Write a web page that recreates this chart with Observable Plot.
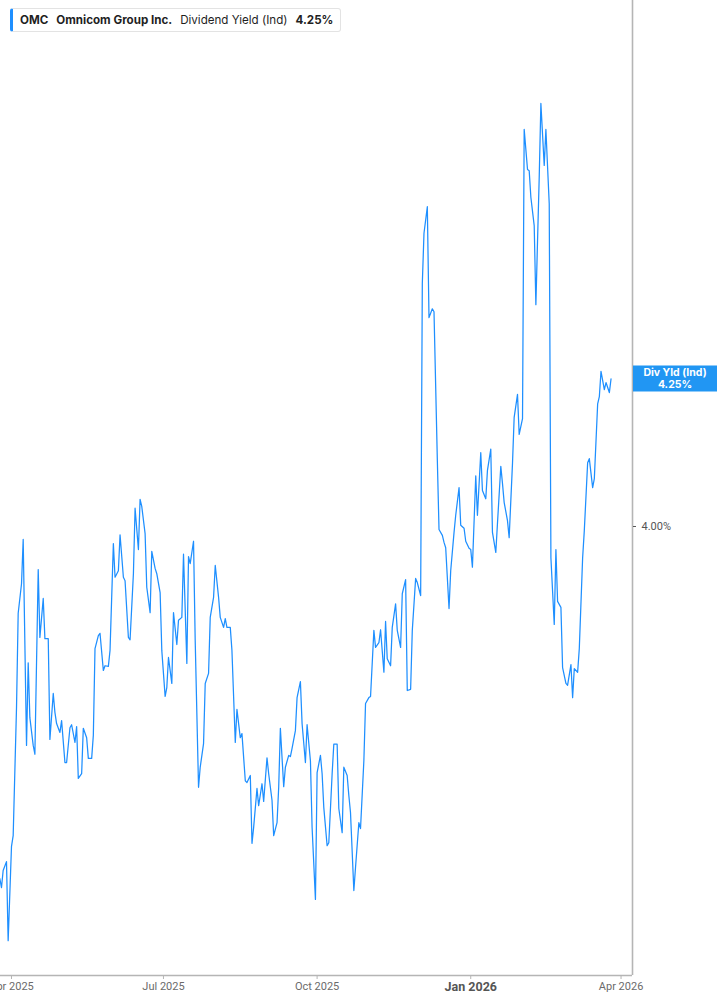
<!DOCTYPE html>
<html>
<head>
<meta charset="utf-8">
<script src="https://cdn.jsdelivr.net/npm/d3@7"></script>
<script src="https://cdn.jsdelivr.net/npm/@observablehq/plot@0.6"></script>
<style>
  html, body { margin: 0; padding: 0; background: #fff; }
  #wrap { position: relative; width: 717px; height: 1005px; overflow: hidden; }
  #legend {
    position: absolute; top: 8px; left: 10px; height: 24px;
    display: flex; align-items: center; gap: 0;
    background: #fff; border: 1px solid #e3e3e3; border-left: 3px solid #1e8fff;
    border-radius: 3px; padding: 0 7px 0 7px;
    font-family: Inter, "Open Sans", sans-serif; font-size: 11.6px; color: #1f1f1f;
    white-space: nowrap; box-sizing: border-box;
  }
  #legend span { margin-right: 8px; }
  #legend span:last-child { margin-right: 0; }
  #legend .b { font-weight: 700; }
</style>
</head>
<body>
<div id="wrap"></div>
<script>
// ---- data ----
const ticker = "OMC";
const company = "Omnicom Group Inc.";
const seriesName = "Dividend Yield (Ind)";
const shortName = "Div Yld (Ind)";

const dates = [
"2025-03-25","2025-03-26","2025-03-27","2025-03-29","2025-03-30","2025-04-01","2025-04-02","2025-04-04","2025-04-05","2025-04-07",
"2025-04-08","2025-04-10","2025-04-11","2025-04-12","2025-04-14","2025-04-15","2025-04-17","2025-04-18","2025-04-20","2025-04-21",
"2025-04-23","2025-04-24","2025-04-26","2025-04-27","2025-04-28","2025-04-30","2025-05-01","2025-05-03","2025-05-04","2025-05-06",
"2025-05-07","2025-05-09","2025-05-10","2025-05-11","2025-05-13","2025-05-14","2025-05-16","2025-05-17","2025-05-19","2025-05-20",
"2025-05-21","2025-05-23","2025-05-24","2025-05-26","2025-05-27","2025-05-29","2025-05-30","2025-06-01","2025-06-02","2025-06-04",
"2025-06-05","2025-06-07","2025-06-08","2025-06-10","2025-06-11","2025-06-13","2025-06-14","2025-06-16","2025-06-17","2025-06-18",
"2025-06-20","2025-06-21","2025-06-23","2025-06-24","2025-06-26","2025-06-27","2025-06-29","2025-06-30","2025-07-02","2025-07-03",
"2025-07-04","2025-07-06","2025-07-07","2025-07-09","2025-07-10","2025-07-12","2025-07-13","2025-07-15","2025-07-16","2025-07-17",
"2025-07-19","2025-07-20","2025-07-22","2025-07-23","2025-07-25","2025-07-26","2025-07-28","2025-07-29","2025-07-31","2025-08-01",
"2025-08-03","2025-08-04","2025-08-06","2025-08-07","2025-08-08","2025-08-10","2025-08-11","2025-08-13","2025-08-14","2025-08-16",
"2025-08-17","2025-08-19","2025-08-20","2025-08-22","2025-08-23","2025-08-24","2025-08-26","2025-08-27","2025-08-29","2025-08-30",
"2025-09-01","2025-09-02","2025-09-04","2025-09-05","2025-09-07","2025-09-08","2025-09-09","2025-09-11","2025-09-12","2025-09-14",
"2025-09-15","2025-09-16","2025-09-18","2025-09-19","2025-09-21","2025-09-22","2025-09-24","2025-09-25","2025-09-27","2025-09-28",
"2025-09-30","2025-10-01","2025-10-03","2025-10-04","2025-10-05","2025-10-07","2025-10-08","2025-10-10","2025-10-11","2025-10-13",
"2025-10-14","2025-10-16","2025-10-17","2025-10-19","2025-10-20","2025-10-21","2025-10-23","2025-10-24","2025-10-26","2025-10-27",
"2025-10-29","2025-10-30","2025-11-01","2025-11-02","2025-11-04","2025-11-05","2025-11-07","2025-11-08","2025-11-10","2025-11-11",
"2025-11-12","2025-11-14","2025-11-15","2025-11-17","2025-11-18","2025-11-20","2025-11-21","2025-11-23","2025-11-24","2025-11-26",
"2025-11-27","2025-11-29","2025-11-30","2025-12-02","2025-12-03","2025-12-04","2025-12-06","2025-12-07","2025-12-09","2025-12-10",
"2025-12-12","2025-12-13","2025-12-15","2025-12-16","2025-12-17","2025-12-19","2025-12-20","2025-12-22","2025-12-23","2025-12-25",
"2025-12-26","2025-12-28","2025-12-29","2025-12-31","2026-01-01","2026-01-02","2026-01-04","2026-01-05","2026-01-07","2026-01-08",
"2026-01-10","2026-01-11","2026-01-13","2026-01-14","2026-01-16","2026-01-17","2026-01-19","2026-01-20","2026-01-21","2026-01-23",
"2026-01-24","2026-01-26","2026-01-27","2026-01-29","2026-01-30","2026-02-01","2026-02-02","2026-02-04","2026-02-05","2026-02-06",
"2026-02-08","2026-02-09","2026-02-11","2026-02-12","2026-02-14","2026-02-15","2026-02-17","2026-02-18","2026-02-20","2026-02-21",
"2026-02-22","2026-02-24","2026-02-25","2026-02-27","2026-02-28","2026-03-02","2026-03-03","2026-03-04","2026-03-06","2026-03-07",
"2026-03-09","2026-03-10","2026-03-12","2026-03-13","2026-03-15","2026-03-16","2026-03-18","2026-03-19","2026-03-20","2026-03-22",
"2026-03-23","2026-03-25","2026-03-26"
];

const yields = [
3.403,3.388,3.417,3.432,3.298,3.458,3.476,3.693,3.853,3.903,
3.978,3.629,3.769,3.676,3.629,3.614,3.927,3.812,3.878,3.810,
3.810,3.639,3.717,3.685,3.666,3.651,3.671,3.600,3.600,3.659,
3.664,3.634,3.661,3.573,3.581,3.658,3.642,3.607,3.607,3.646,
3.793,3.815,3.819,3.756,3.764,3.763,3.790,3.971,3.914,3.925,
3.986,3.914,3.908,3.812,3.808,3.920,4.031,3.961,4.046,4.034,
3.988,3.897,3.854,3.958,3.929,3.920,3.888,3.790,3.712,3.727,
3.778,3.734,3.854,3.800,3.841,3.846,3.953,3.768,3.949,3.937,
3.975,3.807,3.558,3.592,3.632,3.734,3.751,3.846,3.880,3.934,
3.880,3.846,3.829,3.844,3.829,3.829,3.790,3.634,3.690,3.642,
3.649,3.569,3.566,3.578,3.463,3.490,3.556,3.527,3.564,3.534,
3.608,3.581,3.536,3.476,3.498,3.558,3.658,3.559,3.592,3.612,
3.610,3.624,3.654,3.710,3.737,3.666,3.600,3.664,3.603,3.490,
3.368,3.583,3.612,3.581,3.524,3.459,3.464,3.581,3.631,3.631,
3.522,3.481,3.592,3.578,3.544,3.515,3.383,3.422,3.498,3.488,
3.603,3.700,3.710,3.712,3.824,3.795,3.803,3.825,3.753,3.839,
3.776,3.764,3.829,3.869,3.824,3.795,3.886,3.910,3.722,3.724,
3.824,3.912,3.905,3.883,4.412,4.497,4.542,4.354,4.369,4.364,
4.112,3.995,3.985,3.973,3.964,3.861,3.925,3.990,4.019,4.066,
4.002,3.997,3.975,3.963,3.961,3.931,4.086,4.019,4.125,4.061,
4.047,4.095,4.131,3.990,3.956,4.005,4.102,4.073,4.041,4.010,
3.981,4.107,4.185,4.224,4.156,4.183,4.673,4.605,4.603,4.558,
4.510,4.376,4.592,4.717,4.612,4.673,4.547,3.947,3.834,3.961,
3.873,3.863,3.761,3.734,3.731,3.766,3.710,3.759,3.753,3.793,
3.947,3.993,4.108,4.115,4.066,4.081,4.208,4.220,4.263,4.232,
4.244,4.227,4.250
];

const xTicks = ["2025-04-01","2025-07-01","2025-10-01","2026-01-01","2026-04-01"];
const boldTick = "2026-01-01";
const yTicks = [4.00];
const xDomain = ["2025-03-25T09:55:00Z","2026-04-07T20:40:00Z"];
const yDomain = [3.239, 4.8915];

// ---- build ----
const data = dates.map((d, i) => ({date: new Date(d), value: yields[i]}));
const last = data[data.length - 1];
const fmtPct = v => v.toFixed(2) + "%";
const xt = xTicks.map(d => new Date(d));
const xtNormal = xt.filter(d => +d !== +new Date(boldTick));
const xtBold = xt.filter(d => +d === +new Date(boldTick));

const blue = "#1e8fff";
const axisGrey = "#b5b5b5";

// custom mark: current value badge in the right margin
function badge(index, scales, values, dims) {
  const y = scales.y(last.value);
  const x0 = dims.width - dims.marginRight;
  const g = d3.create("svg:g");
  g.append("rect").attr("x", x0 + 1).attr("y", y - 13).attr("width", dims.marginRight - 1).attr("height", 26)
    .attr("fill", "#2196f3");
  const t = g.append("text").attr("fill", "#fff").attr("font-weight", 700).attr("font-size", 10.5)
    .attr("font-family", "Inter, sans-serif").attr("text-anchor", "middle");
  t.append("tspan").attr("x", x0 + 1 + (dims.marginRight - 1) / 2).attr("y", y - 2).text(shortName);
  t.append("tspan").attr("x", x0 + 1 + (dims.marginRight - 1) / 2).attr("y", y + 10).text(fmtPct(last.value));
  return g.node();
}

const chart = Plot.plot({
  width: 717,
  height: 1005,
  marginTop: 0,
  marginBottom: 30,
  marginLeft: 0,
  marginRight: 85,
  style: {fontFamily: "Roboto, sans-serif", fontSize: "11px", color: "#666", background: "#fff"},
  x: {type: "utc", domain: xDomain.map(d => new Date(d))},
  y: {domain: yDomain},
  marks: [
    Plot.lineY(data, {x: "date", y: "value", stroke: blue, strokeWidth: 1.25, clip: true}),
    Plot.ruleY([yDomain[0]], {stroke: axisGrey, strokeWidth: 1.6}),
    Plot.ruleX([new Date(xDomain[1])], {stroke: axisGrey, strokeWidth: 1.6}),
    Plot.axisX(xtNormal, {tickFormat: d3.utcFormat("%b %Y"), tickSize: 4, tickPadding: 3, stroke: axisGrey, fill: "#6b6b6b", fontSize: 11, label: null}),
    Plot.axisX(xtBold, {tickFormat: d3.utcFormat("%b %Y"), tickSize: 4, tickPadding: 3, stroke: axisGrey, fill: "#555", fontSize: 12.5, fontWeight: "bold", label: null}),
    Plot.axisY(yTicks, {anchor: "right", tickFormat: fmtPct, tickSize: 3, tickPadding: 6, stroke: "#555", fill: "#555", fontSize: 11, label: null}),
    badge
  ]
});

const wrap = document.getElementById("wrap");
wrap.appendChild(chart);
const legend = document.createElement("div");
legend.id = "legend";
legend.innerHTML = `<span class="b">${ticker}</span><span class="b">${company}</span><span>${seriesName}</span><span class="b">${fmtPct(last.value)}</span>`;
wrap.appendChild(legend);
</script>
</body>
</html>
